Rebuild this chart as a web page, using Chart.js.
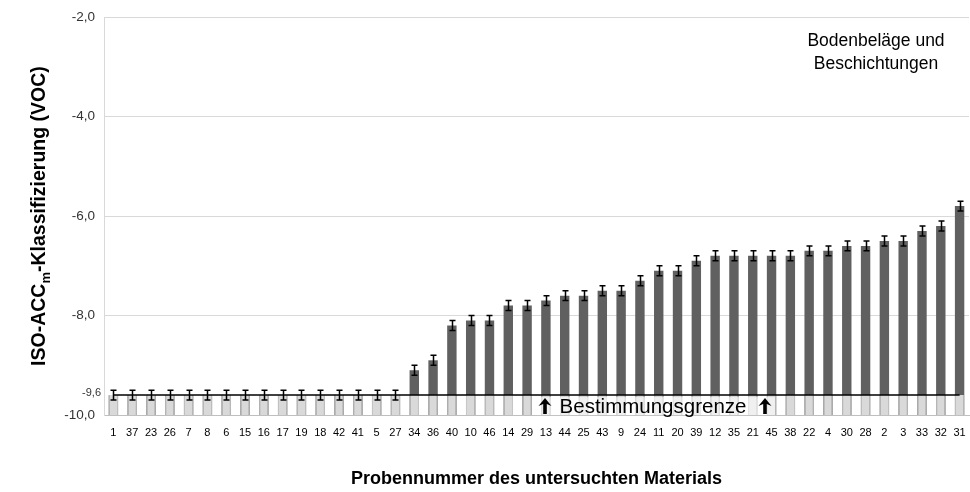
<!DOCTYPE html>
<html>
<head>
<meta charset="utf-8">
<script src="https://cdn.jsdelivr.net/npm/chart.js@4/dist/chart.umd.min.js"></script>
<style>
  html, body { margin: 0; padding: 0; background: #fff; }
  #wrap { width: 970px; height: 492px; }
</style>
</head>
<body>
<div id="wrap"><canvas id="chart" width="970" height="492"></canvas></div>
<script>
// sample numbers, sorted as in the figure
const probes = ['1', '37', '23', '26', '7', '8', '6', '15', '16', '17', '19', '18', '42', '41', '5', '27',
  '34', '36', '40', '10', '46', '14', '29', '13', '44', '25', '43', '9', '24', '11', '20', '39',
  '12', '35', '21', '45', '38', '22', '4', '30', '28', '2', '3', '33', '32', '31'];

// ISO-ACCm classification per sample
const isoValues = [-9.6, -9.6, -9.6, -9.6, -9.6, -9.6, -9.6, -9.6, -9.6, -9.6, -9.6, -9.6, -9.6, -9.6, -9.6, -9.6,
  -9.1, -8.9, -8.2, -8.1, -8.1, -7.8, -7.8, -7.7, -7.6, -7.6, -7.5, -7.5, -7.3, -7.1, -7.1, -6.9,
  -6.8, -6.8, -6.8, -6.8, -6.8, -6.7, -6.7, -6.6, -6.6, -6.5, -6.5, -6.3, -6.2, -5.8];

const errors = [0.1, 0.1, 0.1, 0.1, 0.1, 0.1, 0.1, 0.1, 0.1, 0.1, 0.1, 0.1, 0.1, 0.1, 0.1, 0.1,
  0.1, 0.1, 0.1, 0.1, 0.1, 0.1, 0.1, 0.1, 0.1, 0.1, 0.1, 0.1, 0.1, 0.1, 0.1, 0.1,
  0.1, 0.1, 0.1, 0.1, 0.1, 0.1, 0.1, 0.1, 0.1, 0.1, 0.1, 0.1, 0.1, 0.1];

// Bestimmungsgrenze (detection limit)
const limitValue = -9.6;
const limitValues = probes.map(() => limitValue);

const axisMin = -10;
const axisMax = -2;

const font = '"Liberation Sans", Arial, sans-serif';

function upArrow(ctx, x, top, bottom) {
  ctx.beginPath();
  ctx.moveTo(x, top);
  ctx.lineTo(x + 6.5, top + 8);
  ctx.lineTo(x + 1.8, top + 6);
  ctx.lineTo(x + 1.8, bottom);
  ctx.lineTo(x - 1.8, bottom);
  ctx.lineTo(x - 1.8, top + 6);
  ctx.lineTo(x - 6.5, top + 8);
  ctx.closePath();
  ctx.fill();
}

// error bars, extra labels and the y title with subscript
const extras = {
  id: 'extras',
  afterDatasetsDraw(chart) {
    const ctx = chart.ctx;
    const y = chart.scales.y;
    const meta = chart.getDatasetMeta(0);
    ctx.save();
    ctx.strokeStyle = '#000';
    ctx.lineWidth = 1.5;
    meta.data.forEach((pt, i) => {
      const yTop = y.getPixelForValue(isoValues[i] + errors[i]);
      const yBot = y.getPixelForValue(isoValues[i] - errors[i]);
      const x = Math.round(pt.x) + 0.5;
      ctx.beginPath();
      ctx.moveTo(x, yTop); ctx.lineTo(x, yBot);
      ctx.moveTo(x - 3, yTop); ctx.lineTo(x + 3, yTop);
      ctx.moveTo(x - 3, yBot); ctx.lineTo(x + 3, yBot);
      ctx.stroke();
    });

    // limit label on the axis
    ctx.fillStyle = '#333';
    ctx.font = '11px ' + font;
    ctx.textAlign = 'right';
    ctx.textBaseline = 'middle';
    ctx.fillText('-9,6', chart.chartArea.left - 3, y.getPixelForValue(limitValue) - 2);

    // Bestimmungsgrenze text
    const ly = y.getPixelForValue(limitValue) + 11;
    ctx.fillStyle = 'rgba(255,255,255,0.6)';
    ctx.fillRect(535, ly - 9, 240, 18);
    ctx.fillStyle = '#000';
    ctx.textAlign = 'center';
    ctx.font = '20.5px ' + font;
    ctx.fillText('Bestimmungsgrenze', 653, ly + 1);
    upArrow(ctx, 545, ly - 8, ly + 8);
    upArrow(ctx, 765, ly - 8, ly + 8);

    // annotation top right
    ctx.font = '17.5px ' + font;
    ctx.fillText('Bodenbeläge und', 876, 41);
    ctx.fillText('Beschichtungen', 876, 64);

    // y axis title with subscript m
    const midY = (chart.chartArea.top + chart.chartArea.bottom) / 2;
    const big = 'bold 19.5px ' + font;
    const small = 'bold 13px ' + font;
    const p1 = 'ISO-ACC', p2 = 'm', p3 = '-Klassifizierung (VOC)';
    ctx.font = big;
    const w1 = ctx.measureText(p1).width, w3 = ctx.measureText(p3).width;
    ctx.font = small;
    const w2 = ctx.measureText(p2).width;
    const total = w1 + w2 + w3;
    ctx.translate(40, midY);
    ctx.rotate(-Math.PI / 2);
    ctx.textAlign = 'left';
    ctx.textBaseline = 'middle';
    let x0 = -total / 2;
    ctx.font = big;
    ctx.fillText(p1, x0, 0);
    x0 += w1;
    ctx.font = small;
    ctx.fillText(p2, x0, 6);
    x0 += w2;
    ctx.font = big;
    ctx.fillText(p3, x0, 0);
    ctx.restore();
  }
};

new Chart(document.getElementById('chart'), {
  type: 'bar',
  data: {
    labels: probes,
    datasets: [
      {
        type: 'line',
        data: limitValues,
        borderColor: '#000',
        borderWidth: 1.5,
        pointRadius: 0,
        order: 0
      },
      {
        data: limitValues.map(v => [axisMin, v]),
        backgroundColor: '#d9d9d9',
        borderColor: '#c6c6c6',
        borderWidth: { left: 1, right: 1, top: 0, bottom: 0 },
        grouped: false,
        order: 1
      },
      {
        data: isoValues.map(v => [axisMin, v]),
        backgroundColor: '#606060',
        grouped: false,
        order: 2
      }
    ]
  },
  options: {
    responsive: false,
    animation: false,
    events: [],
    datasets: {
      bar: { barPercentage: 0.5, categoryPercentage: 1 }
    },
    layout: { padding: { top: 15, right: 1, left: 0, bottom: 0 } },
    plugins: {
      legend: { display: false },
      tooltip: { enabled: false }
    },
    scales: {
      x: {
        grid: { display: false, drawTicks: false },
        border: { display: true, color: '#bfbfbf' },
        ticks: {
          color: '#000',
          font: { family: font, size: 11 },
          padding: 11,
          autoSkip: false,
          maxRotation: 0
        },
        title: {
          display: true,
          text: 'Probennummer des untersuchten Materials',
          color: '#000',
          font: { family: font, size: 18, weight: 'bold' },
          padding: { top: 0, bottom: 2 }
        },
        afterFit(s) {
          s.height = 77;
          s.paddingLeft = 0;
          s.paddingRight = 0;
        }
      },
      y: {
        min: axisMin,
        max: axisMax,
        grid: { color: '#d9d9d9', drawTicks: false },
        border: { display: true, color: '#d9d9d9' },
        ticks: {
          stepSize: 2,
          color: '#333',
          font: { family: font, size: 13.5 },
          padding: 9,
          callback: v => v.toFixed(1).replace('.', ',')
        },
        afterFit(s) { s.width = 104; }
      }
    }
  },
  plugins: [extras]
});
</script>
</body>
</html>
